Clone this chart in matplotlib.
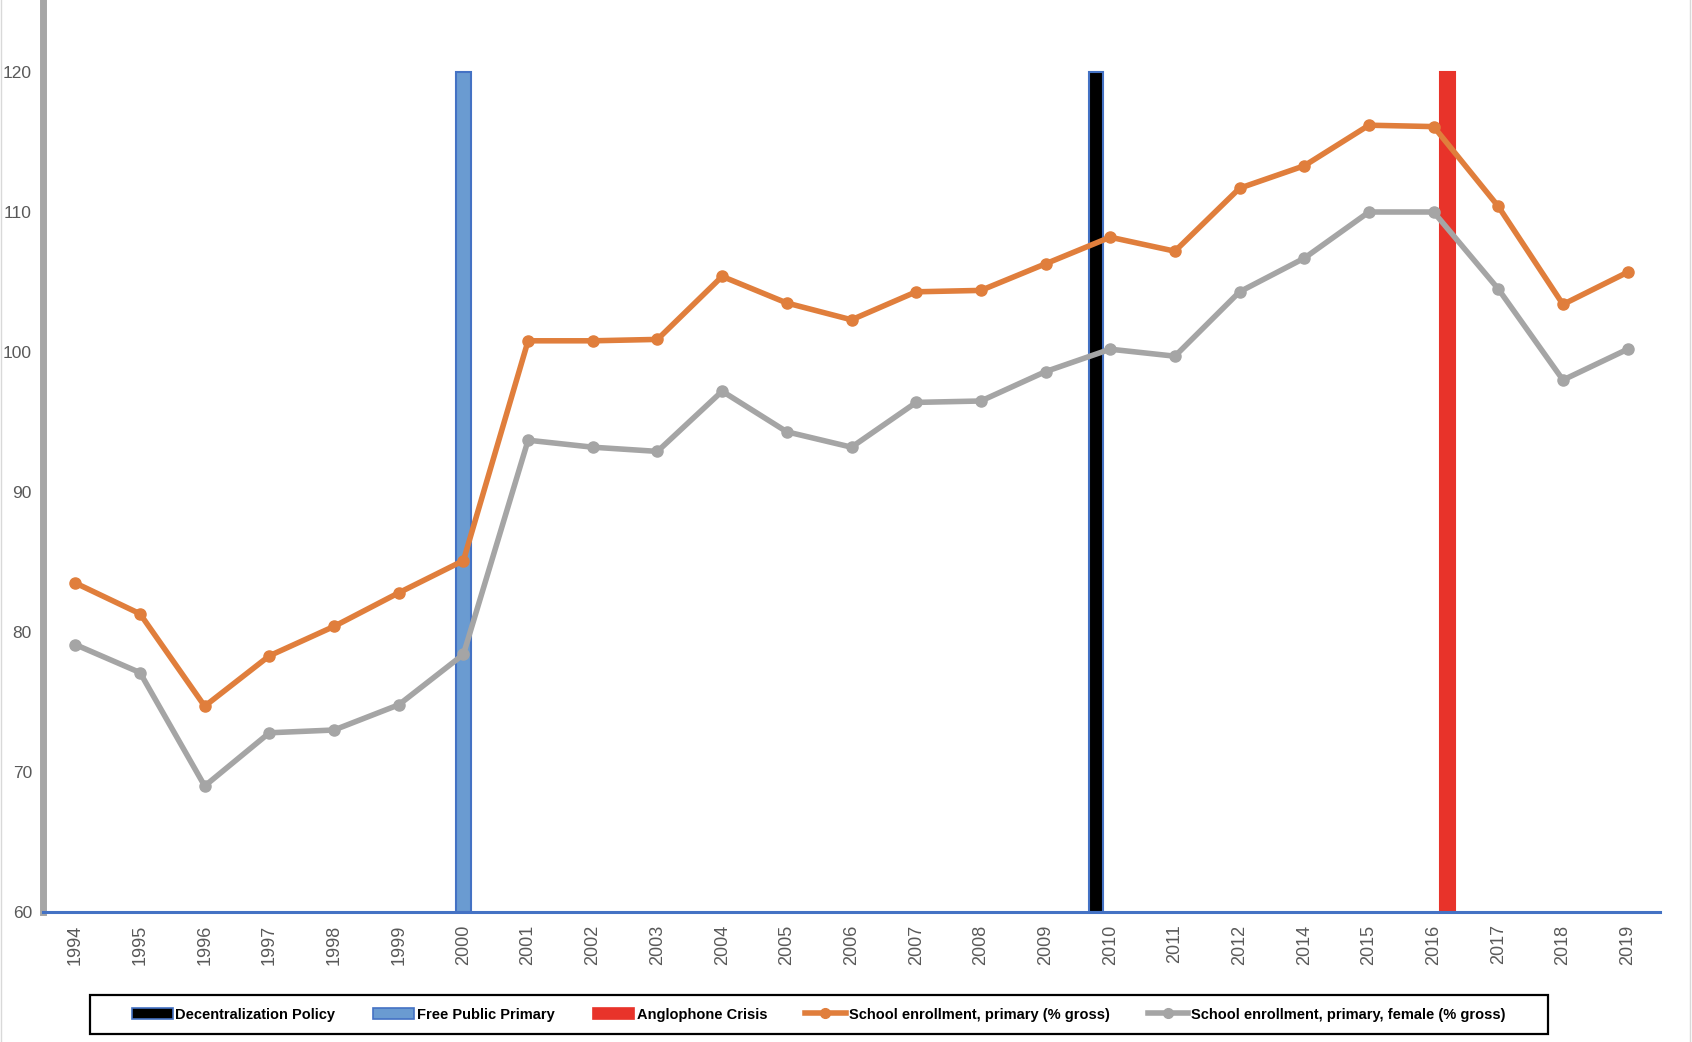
import numpy as np
import matplotlib
matplotlib.use('Agg')
from matplotlib import pyplot as plt
from matplotlib.patches import Rectangle, Patch
from matplotlib.lines import Line2D

years = ['1994', '1995', '1996', '1997', '1998', '1999', '2000', '2001',
         '2002', '2003', '2004', '2005', '2006', '2007', '2008', '2009',
         '2010', '2011', '2012', '2014', '2015', '2016', '2017', '2018',
         '2019']

# School enrollment, primary (% gross)
enrol_total = [83.5, 81.3, 74.7, 78.3, 80.4, 82.8, 85.1, 100.8, 100.8, 100.9,
               105.4, 103.5, 102.3, 104.3, 104.4, 106.3, 108.2, 107.2, 111.7,
               113.3, 116.2, 116.1, 110.4, 103.4, 105.7]
# School enrollment, primary, female (% gross)
enrol_female = [79.1, 77.1, 69.0, 72.8, 73.0, 74.8, 78.4, 93.7, 93.2, 92.9,
                97.2, 94.3, 93.2, 96.4, 96.5, 98.6, 100.2, 99.7, 104.3,
                106.7, 110.0, 110.0, 104.5, 98.0, 100.2]

# policy markers (clustered column series in the original)
events = ['Decentralization Policy', 'Free Public Primary', 'Anglophone Crisis']
event_years = ['2010', '2000', '2016']
event_heights = [120, 120, 120]

W, H, DPI = 1692, 1042, 100
fig = plt.figure(figsize=(W / DPI, H / DPI), dpi=DPI)
plt.rcParams['font.family'] = ['Liberation Sans Narrow', 'Liberation Sans', 'DejaVu Sans']

ax = fig.add_axes([43 / W, 1 - 912 / H, (1660 - 43) / W, 912 / H])
x = np.arange(len(years))

bar_w = 0.22
offsets = [-0.215, 0.0, 0.215]
fills = ['black', '#6A9BD1', '#E8332A']
edges = ['#4472C4', '#4472C4', '#E8332A']
for name, yr, h, off, fc, ec in zip(events, event_years, event_heights,
                                      offsets, fills, edges):
    i = years.index(yr)
    ax.bar(i + off, h - 60, bottom=60, width=bar_w, color=fc, edgecolor=ec,
           linewidth=1.5, zorder=2)

orange = '#E07E3C'
grey = '#A5A5A5'
ax.plot(x, enrol_total, '-o', color=orange, lw=4, ms=8, zorder=4)
ax.plot(x, enrol_female, '-o', color=grey, lw=4, ms=8, zorder=3)

ax.set_xlim(-0.5, len(years) - 0.5)
ax.set_ylim(60, 120 + 72 / 14)
ax.set_yticks(np.arange(60, 121, 10))
ax.set_xticks(x)
ax.set_xticklabels(years, rotation=90, fontsize=13, color='#595959')
ax.tick_params(axis='y', length=0, pad=8, labelsize=12.5, labelcolor='#595959')
ax.tick_params(axis='x', length=0, pad=9)

for s in ['top', 'right']:
    ax.spines[s].set_visible(False)
ax.spines['left'].set_color('#A6A6A6')
ax.spines['left'].set_linewidth(5)
ax.spines['bottom'].set_color('#4472C4')
ax.spines['bottom'].set_linewidth(2.2)
ax.spines['bottom'].set_zorder(5)

# legend box
x0, x1, y0, y1 = 89.5, 1548, 995, 1034
fig.patches.append(Rectangle((x0 / W, 1 - y1 / H), (x1 - x0) / W, (y1 - y0) / H,
                             transform=fig.transFigure, fill=False,
                             edgecolor='black', linewidth=1.6))
handles = [Patch(facecolor=fc, edgecolor=ec, linewidth=1.2)
           for fc, ec in zip(fills, edges)]
handles += [Line2D([], [], color=orange, lw=4, marker='o', ms=7),
            Line2D([], [], color=grey, lw=4, marker='o', ms=7)]
labels = events + ['School enrollment, primary (% gross)',
                   'School enrollment, primary, female (% gross)']
fig.legend(handles, labels, loc='center', ncol=5, frameon=False,
           bbox_to_anchor=((x0 + x1) / 2 / W, 1 - (y0 + y1) / 2 / H),
           prop={'weight': 'bold', 'size': 10.5}, handlelength=2.8,
           handleheight=0.8, handletextpad=0.2, columnspacing=2.6)

# faint sheet edges
fig.add_artist(Line2D([1 / W, 1 / W], [0, 1], transform=fig.transFigure,
                      color='#D9D9D9', lw=1))
fig.add_artist(Line2D([1 - 2 / W, 1 - 2 / W], [0, 1], transform=fig.transFigure,
                      color='#D9D9D9', lw=1))

fig.savefig('out.png', dpi=DPI)
